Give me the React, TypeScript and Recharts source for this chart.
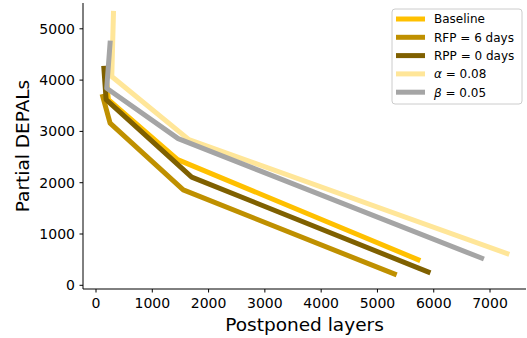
import React from "react"
import { LineChart, Line, XAxis, YAxis } from "recharts"

// values
const baselineX = [190, 220, 1450, 5720]
const baselineY = [3950, 3620, 2450, 500]
const rfpX = [120, 250, 1550, 5300]
const rfpY = [3680, 3160, 1860, 220]
const rppX = [140, 180, 1700, 5900]
const rppY = [4230, 3620, 2110, 260]
const alphaX = [310, 280, 1650, 7300]
const alphaY = [5300, 4070, 2840, 620]
const betaX = [250, 190, 1460, 6850]
const betaY = [4720, 3840, 2860, 530]

const xTicks = [0, 1000, 2000, 3000, 4000, 5000, 6000, 7000]
const yTicks = [0, 1000, 2000, 3000, 4000, 5000]

const xDomain = [-231, 7639]
const yDomain = [-72, 5503]

const FONT = "DejaVu Sans"

const toPoints = (xs: number[], ys: number[]) => xs.map((x, i) => ({ x, y: ys[i] }))

const series = [
  { key: "baseline", label: "Baseline", color: "#FFC000", data: toPoints(baselineX, baselineY) },
  { key: "rfp", label: "RFP = 6 days", color: "#BF9000", data: toPoints(rfpX, rfpY) },
  { key: "rpp", label: "RPP = 0 days", color: "#7F6000", data: toPoints(rppX, rppY) },
  { key: "alpha", label: "α", value: " = 0.08", color: "#FFE699", data: toPoints(alphaX, alphaY) },
  { key: "beta", label: "β", value: " = 0.05", color: "#A5A5A5", data: toPoints(betaX, betaY) },
]

function LegendBox() {
  return (
    <svg width={132} height={97} style={{ position: "absolute", left: 391, top: 8 }}>
      <rect x={1} y={1} width={130} height={95} rx={3} fill="rgba(255,255,255,0.8)" stroke="#cccccc" />
      {series.map((s, i) => {
        const cy = 11 + i * 18.3
        return (
          <g key={s.key}>
            <line x1={5} x2={34} y1={cy} y2={cy} stroke={s.color} strokeWidth={5} />
            <text x={43} y={cy} dy="0.36em" fontSize={12} fontFamily={FONT} fill="#000">
              {s.value ? (
                <>
                  <tspan fontStyle="italic">{s.label}</tspan>
                  {s.value}
                </>
              ) : (
                s.label
              )}
            </text>
          </g>
        )
      })}
    </svg>
  )
}

export default function App() {
  const tickStyle = { fontSize: 14, fill: "#000", fontFamily: FONT }
  return (
    <div style={{ position: "absolute", left: 0, top: 0, width: 527, height: 338, background: "#fff" }}>
      <LineChart width={527} height={338} margin={{ top: 3, right: 1, bottom: 0, left: 0 }}>
        <XAxis
          type="number"
          dataKey="x"
          domain={xDomain}
          ticks={xTicks}
          allowDataOverflow
          height={49}
          tick={tickStyle}
          tickSize={3.5}
          tickMargin={6}
          tickLine={{ stroke: "#000" }}
          axisLine={{ stroke: "#000" }}
          label={(props: any) => (
            <text x={304.5} y={331} textAnchor="middle" fontSize={18.5} fontFamily={FONT} fill="#000">
              Postponed layers
            </text>
          )}
        />
        <XAxis
          xAxisId="top"
          orientation="top"
          type="number"
          domain={xDomain}
          allowDataOverflow
          height={0}
          tick={false}
          tickLine={false}
          axisLine={{ stroke: "#000" }}
        />
        <YAxis
          type="number"
          dataKey="y"
          domain={yDomain}
          ticks={yTicks}
          allowDataOverflow
          width={83}
          tick={tickStyle}
          tickSize={3.5}
          tickMargin={4.5}
          tickLine={{ stroke: "#000" }}
          axisLine={{ stroke: "#000" }}
          label={(props: any) => (
            <text
              x={22}
              y={146}
              textAnchor="middle"
              dominantBaseline="central"
              transform="rotate(-90 22 146)"
              fontSize={18.5}
              fontFamily={FONT}
              fill="#000"
            >
              Partial DEPALs
            </text>
          )}
        />
        <YAxis
          yAxisId="right"
          orientation="right"
          type="number"
          domain={yDomain}
          allowDataOverflow
          width={0}
          tick={false}
          tickLine={false}
          axisLine={{ stroke: "#000" }}
        />
        {series.map((s) => (
          <Line
            key={s.key}
            data={s.data}
            dataKey="y"
            type="linear"
            stroke={s.color}
            strokeWidth={5}
            strokeLinecap="square"
            strokeLinejoin="round"
            dot={false}
            activeDot={false}
            isAnimationActive={false}
          />
        ))}
      </LineChart>
      <LegendBox />
    </div>
  )
}
